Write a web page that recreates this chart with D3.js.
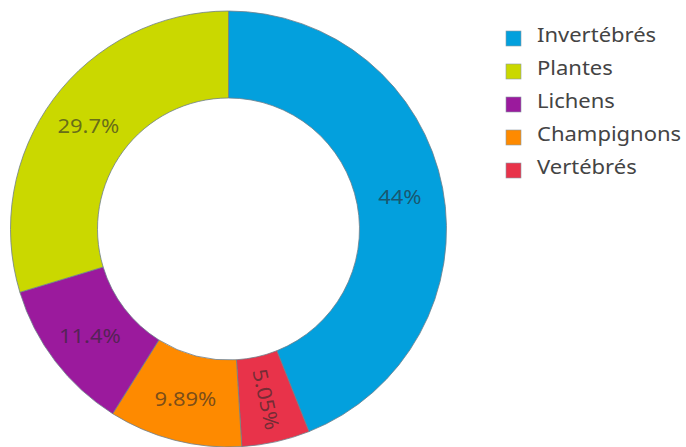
<!DOCTYPE html>
<html><head><meta charset="utf-8">
<script src="https://cdn.jsdelivr.net/npm/d3@7"></script>
<style>body{margin:0;background:#fff}svg{display:block}</style>
</head><body>
<svg id="c" width="686" height="447"></svg>
<script>
const categories = ["Invertébrés", "Vertébrés", "Champignons", "Lichens", "Plantes"];
const values = [44, 5.05, 9.89, 11.4, 29.7];
const colors = ["#03a0dd", "#e8334a", "#fe8a00", "#9b1a9d", "#cad800"];
const legendOrder = ["Invertébrés", "Plantes", "Lichens", "Champignons", "Vertébrés"];

const svg = d3.select("#c");
const cx = 228.5, cy = 229, R = 218, r0 = 131;
const font = "'Noto Sans', 'Open Sans', sans-serif";

const pie = d3.pie().sort(null).value(d => d.v).startAngle(0).endAngle(2 * Math.PI);
const data = categories.map((c, i) => ({ c, v: values[i], col: colors[i] }));
const arcs = pie(data);
const arc = d3.arc().innerRadius(r0).outerRadius(R);
const g = svg.append("g").attr("transform", `translate(${cx},${cy})`);

g.selectAll("path").data(arcs).join("path")
  .attr("d", arc)
  .attr("fill", d => d.data.col)
  .attr("stroke", "#6f7f8a")
  .attr("stroke-width", 0.8);

const fmt = d3.format(".3~g");
const midR = (R + r0) / 2;
g.selectAll("text").data(arcs).join("text")
  .attr("transform", d => {
    const a = (d.startAngle + d.endAngle) / 2;
    const x = Math.sin(a) * midR, y = -Math.cos(a) * midR;
    const span = d.endAngle - d.startAngle;
    const rot = span < 0.5 ? (a * 180 / Math.PI - 90) : 0;
    return `translate(${x},${y}) rotate(${rot}) scale(1.1,1)`;
  })
  .attr("text-anchor", "middle")
  .attr("dominant-baseline", "central")
  .attr("font-family", font)
  .attr("font-size", 20)
  .attr("fill", "rgba(40,40,40,0.62)")
  .text(d => fmt(d.data.v) + "%");

const colorOf = c => colors[categories.indexOf(c)];
const lg = svg.append("g");
legendOrder.forEach((c, i) => {
  const y = 38 + i * 33;
  lg.append("rect").attr("x", 506).attr("y", y - 7).attr("width", 15).attr("height", 15)
    .attr("fill", colorOf(c)).attr("stroke", "#8a9aa5").attr("stroke-width", 0.6);
  lg.append("text").attr("transform", `translate(537,${y + 4}) scale(1.1,1)`)
    .attr("font-family", font).attr("font-size", 20).attr("fill", "#444")
    .text(c);
});
</script>
</body></html>
